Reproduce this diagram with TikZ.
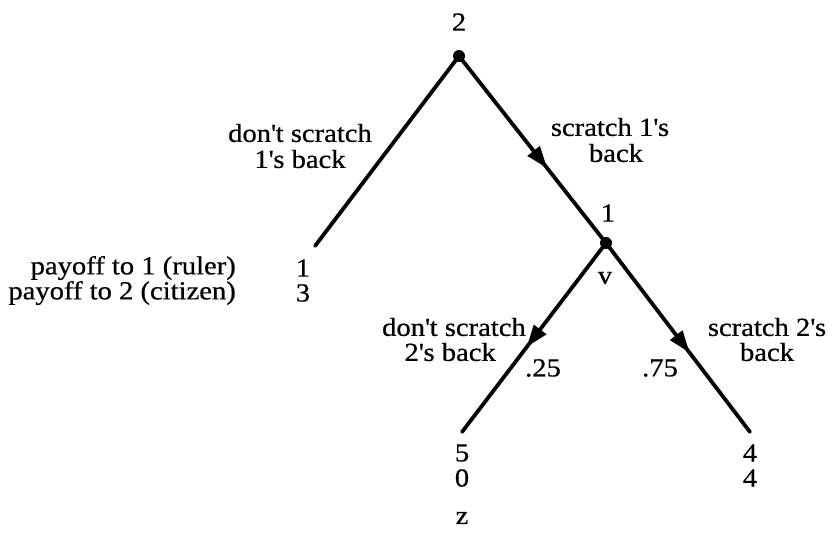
\documentclass[tikz,border=0pt]{standalone}
\usepackage{fontspec}
\setmainfont{Liberation Serif}[FakeStretch=1.1,FakeBold=0.6]
\usetikzlibrary{decorations.markings,arrows.meta}
\newcommand{\ap}{\textquotesingle}
\begin{document}
\begin{tikzpicture}[x=1pt,y=-1pt,
  edge/.style={line width=3.8pt,line cap=round},
  arrowedge/.style={edge,postaction={decorate},decoration={markings,
     mark=at position #1 with {\arrow{Triangle[length=22pt,width=15pt]}}}},
  dot/.style={circle,fill=black,inner sep=0pt,minimum size=12pt},
  lbl/.style={font=\fontsize{26}{26}\selectfont,inner sep=0pt,align=center},
  lblr/.style={lbl,anchor=east,align=right}]
\useasboundingbox (0,0) rectangle (838,541);
% nodes
\node[dot] (root) at (459,56) {};
\node[dot] (n1) at (606,243) {};
\coordinate (leafL) at (315,246);
\coordinate (leafA) at (462,432);
\coordinate (leafB) at (750,432);
% edges
\draw[edge] (root.center) -- (leafL);
\draw[arrowedge=0.6] (root.center) -- (n1.center);
\draw[arrowedge=0.55] (n1.center) -- (leafA);
\draw[arrowedge=0.58] (n1.center) -- (leafB);
% labels
\node[lbl] (t2) at (459,22) {2};
\node[lbl] (t1) at (608,213) {1};
\node[lbl] (tv) at (605,278) {v};
\node[lbl] (dsl1) at (300,133) {don\ap t scratch};
\node[lbl] (dsl2) at (300,159) {1\ap s back};
\node[lbl] (sl1) at (610,127) {scratch 1\ap s};
\node[lbl] (sl2) at (616,153) {back};
\node[lblr] (p1) at (236,268) {payoff to 1 (ruler)};
\node[lblr] (p2) at (236,293) {payoff to 2 (citizen)};
\node[lbl] (p1v) at (303,268) {1};
\node[lbl] (p2v) at (303,293) {3};
\node[lblr] (ds1) at (526,327) {don\ap t scratch};
\node[lblr] (ds2) at (496,352) {2\ap s back};
\node[lbl] (pa) at (543,368) {.25};
\node[lbl] (pb) at (660,368) {.75};
\node[lbl] (s1) at (767,327) {scratch 2\ap s};
\node[lbl] (s2) at (767,352) {back};
\node[lbl] (a1) at (462,453) {5};
\node[lbl] (a2) at (462,478) {0};
\node[lbl] (az) at (462,518) {z};
\node[lbl] (b1) at (750,453) {4};
\node[lbl] (b2) at (750,478) {4};
\end{tikzpicture}
\end{document}
